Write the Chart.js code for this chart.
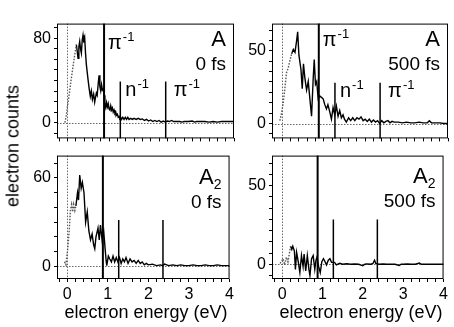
<!DOCTYPE html>
<html>
<head>
<meta charset="utf-8">
<script src="https://cdn.jsdelivr.net/npm/chart.js@4"></script>
<style>
  body { margin: 0; background: #fff; width: 454px; height: 327px; overflow: hidden; position: relative;
         font-family: "Liberation Sans", Arial, sans-serif; color: #000; }
  canvas { position: absolute; }
  .ytitle { position: absolute; left: 13px; top: 146px; transform: translate(-50%, -50%) rotate(-90deg);
            font-size: 18px; white-space: nowrap; }
  .xtitle { position: absolute; top: 302px; font-size: 18px; white-space: nowrap; transform: translateX(-50%); }
</style>
</head>
<body>
<canvas id="a0"></canvas>
<canvas id="a500"></canvas>
<canvas id="a2_0"></canvas>
<canvas id="a2_500"></canvas>
<div class="ytitle">electron counts</div>
<div class="xtitle" style="left:146px">electron energy (eV)</div>
<div class="xtitle" style="left:361px">electron energy (eV)</div>
<script>
// ---- data ----
// A, 0 fs
const xDotA0 = [-0.06, -0.03, 0.01, 0.05, 0.09, 0.13, 0.17, 0.215];
const yDotA0 = [0, 6, 18, 29, 41, 52, 63, 74];
const xA0 = [0.215, 0.235, 0.255, 0.275, 0.295, 0.315, 0.335, 0.355, 0.375, 0.395, 0.415, 0.435, 0.455, 0.475, 0.495,
  0.52, 0.55, 0.575, 0.6, 0.63, 0.655, 0.675, 0.695, 0.715, 0.735, 0.76, 0.78, 0.8, 0.82, 0.84, 0.86, 0.88, 0.9, 0.92,
  0.94, 0.96, 0.98, 1.0, 1.02, 1.04, 1.06, 1.08, 1.1, 1.12, 1.14, 1.16, 1.18, 1.2, 1.22, 1.24, 1.26, 1.28, 1.3, 1.33,
  1.36, 1.39, 1.42, 1.45, 1.48, 1.52, 1.56, 1.6, 1.65, 1.7, 1.75, 1.8, 1.85, 1.9, 1.95, 2.0, 2.05, 2.1, 2.15, 2.2, 2.25,
  2.3, 2.35, 2.4, 2.45, 2.5, 2.55, 2.6, 2.7, 2.75, 2.8, 2.9, 3.0, 3.05, 3.1, 3.2, 3.3, 3.4, 3.5, 3.6, 3.7, 3.8, 3.9, 4.0];
const yA0 = [74, 68, 61, 72, 77, 70, 66, 78, 83, 76, 80, 66, 55, 48, 41,
  33, 25, 30, 22, 27, 19.5, 24, 28, 26, 35, 45, 34, 30, 36, 31, 32, 26, 17, 14,
  19, 15, 18, 13, 12, 16, 12, 14, 10, 12, 9, 10, 7, 8, 5, 6, 4, 5, 3, 5,
  3, 5, 3, 5, 3, 4, 3, 4, 3, 4, 3, 3.5, 2, 3, 1.5, 2.5, 1, 2, 1, 2, 0.5,
  1.5, 0.5, 1.5, 1, 2, 1, 1, 1, 0.5, 1, 1, 1.5, 0.5, 1, 1, 1, 0.5, 1, 0.5, 1, 1, 1, 1];

// A, 500 fs
const xDotA500 = [-0.06, -0.02, 0.02, 0.06, 0.1, 0.14, 0.18, 0.225];
const yDotA500 = [2, 7, 14, 24, 35, 38, 43, 48];
const xA500 = [0.225, 0.265, 0.305, 0.345, 0.37, 0.4, 0.45, 0.48, 0.51, 0.545, 0.585, 0.625, 0.665, 0.705, 0.745, 0.77,
  0.8, 0.83, 0.865, 0.9, 0.945, 0.985, 1.025, 1.065, 1.1, 1.145, 1.185, 1.225, 1.265, 1.305, 1.345, 1.385, 1.425, 1.465,
  1.5, 1.545, 1.6, 1.65, 1.7, 1.75, 1.8, 1.85, 1.9, 1.95, 2.0, 2.05, 2.1, 2.15, 2.2, 2.25, 2.3, 2.35, 2.4, 2.45, 2.5,
  2.55, 2.6, 2.65, 2.7, 2.8, 2.9, 3.0, 3.1, 3.2, 3.3, 3.4, 3.5, 3.55, 3.6, 3.7, 3.8, 3.9, 4.0];
const yA500 = [48, 51, 49, 57, 63, 47, 37, 24, 41, 31, 23, 29, 17, 5, 31, 44,
  27, 29, 17, 19, 18, 17, 13, 10, 13, 8, 3, 11, 6, 12, 5, 9, 4, 6,
  3, 1, 4, 2, 4, 2, 4, 3, 4.5, 2, 3, 1.5, 3, 1, 2.5, 1, 2, 0, 2, 0.5, 1.5,
  2, 0.5, 1.5, 1, 1, 0.5, 1, 0.5, 0.5, 1, 0.5, 0.5, 2, 0.5, 0.5, 0.5, 0, 0];

// A2, 0 fs
const xDotA2_0 = [-0.065, -0.03, 0.015, 0.055, 0.08, 0.11, 0.135, 0.16, 0.19, 0.215];
const yDotA2_0 = [3, 1, 12, 26, 38, 42, 37, 42, 38, 41];
const xA2_0 = [0.215, 0.255, 0.28, 0.31, 0.345, 0.375, 0.415, 0.455, 0.495, 0.535, 0.575, 0.615, 0.65, 0.68, 0.71, 0.76,
  0.79, 0.82, 0.86, 0.9, 0.935, 0.96, 0.975, 1.015, 1.05, 1.09, 1.13, 1.17, 1.21, 1.25, 1.29, 1.33, 1.37, 1.41, 1.45,
  1.5, 1.55, 1.6, 1.65, 1.7, 1.75, 1.8, 1.85, 1.9, 1.95, 2.0, 2.1, 2.2, 2.3, 2.35, 2.4, 2.5, 2.6, 2.7, 2.8, 2.9, 3.0,
  3.1, 3.2, 3.3, 3.4, 3.5, 3.6, 3.7, 3.8, 3.9, 4.0];
const yA2_0 = [41, 50, 45, 62, 53, 57, 50, 30, 37, 24, 18, 22, 15, 12, 20, 26,
  18, 28, 18, 24, 12, 4, 0.5, 7, 5, 3, 7, 3, 6, 3, 6, 2, 5, 3, 6,
  2, 5, 3, 4, 2, 4, 2, 3, 1, 2, 1, 1.5, 0.5, 1, 0.5, 1.5, 0.5, 1, 0.5, 1, 0.5, 0.5,
  1, 0.5, 0.5, 1, 0.5, 0.5, 1, 0.5, 0.5, 0.5];

// A2, 500 fs
const xDotA2_500 = [-0.05, -0.01, 0.025, 0.065, 0.105, 0.145, 0.185, 0.21];
const yDotA2_500 = [0.6, 2, 3.5, -0.4, 4.5, 1.6, 7.5, 11.4];
const xA2_500 = [0.21, 0.24, 0.265, 0.305, 0.33, 0.36, 0.4, 0.44, 0.48, 0.52, 0.545, 0.585, 0.625, 0.665, 0.69, 0.73,
  0.77, 0.81, 0.84, 0.865, 0.905, 0.945, 0.985, 1.025, 1.065, 1.1, 1.145, 1.185, 1.225, 1.3, 1.345, 1.425, 1.5, 1.6,
  1.7, 1.8, 1.9, 2.0, 2.05, 2.1, 2.2, 2.25, 2.29, 2.32, 2.4, 2.5, 2.6, 2.7, 2.8, 2.9, 2.95, 3.0, 3.1, 3.2, 3.3, 3.4,
  3.45, 3.5, 3.6, 3.7, 3.8, 3.9, 4.0];
const yA2_500 = [11.4, 9.4, 11.4, 8.4, -3.3, 7.5, 1.6, -5.3, 5.5, -1.4, 6.5, -4.3, 5.5, -3.3, -7.2, 3.5,
  5.5, -3.3, 2.6, 4.5, -1.4, -5.3, 1.6, 3.5, 1.6, -0.4, 2.6, 3.5, 1.2, 1.2, -0.4, 0.6, 0, 0.3,
  0, 0.2, 0, -1, 0, 0.2, 0, 0.5, 2.6, 0.6, 0, 0.2, 0, 0, 0, -0.8, 0, 0, 0.2, 0, 0, 0.8,
  0, 0, 0, 0, 0, 0, 0];

// ionisation thresholds (eV) and their labels
const thresholds = [0.88, 1.27, 2.36];
const thresholdNames = ['π', 'n', 'π'];

// axis ticks
const xRange = [-0.25, 4];
const xTickLabels = [0, 1, 2, 3, 4];
const yLabelsA0 = [0, 80], yLabelsA500 = [0, 50], yLabelsA2_0 = [0, 60], yLabelsA2_500 = [0, 50];

// ---- layout ----
const FONT = '"Liberation Sans", Arial, sans-serif';
const pad = { l: 42, r: 2, t: 2 };

function pts(xs, ys) { return xs.map((x, i) => ({ x: x, y: ys[i] })); }
function steps(from, to, step) { const a = []; for (let i = from; i <= to; i++) a.push(i * step); return a; }

const panelDecor = {
  id: 'panelDecor',
  beforeDatasetsDraw(chart, args, o) {
    const { ctx, chartArea: a, scales: { x, y } } = chart;
    ctx.save();
    ctx.strokeStyle = '#666';
    ctx.lineWidth = 1;
    ctx.setLineDash([1.5, 1.5]);
    const x0 = Math.round(x.getPixelForValue(0)) + 0.5, y0 = Math.round(y.getPixelForValue(0)) + 0.5;
    ctx.beginPath();
    ctx.moveTo(x0, a.top); ctx.lineTo(x0, a.bottom);
    ctx.moveTo(a.left, y0); ctx.lineTo(a.right, y0);
    ctx.stroke();
    ctx.restore();
  },
  afterDatasetsDraw(chart, args, o) {
    const { ctx, chartArea: a, scales: { x, y } } = chart;
    ctx.save();
    ctx.strokeStyle = '#000';
    // threshold lines
    thresholds.forEach((e, i) => {
      const px = x.getPixelForValue(e);
      const top = i === 0 ? a.top : y.getPixelForValue(o.lineTop);
      ctx.lineWidth = i === 0 ? 2 : 1.5;
      ctx.beginPath(); ctx.moveTo(px, top); ctx.lineTo(px, a.bottom); ctx.stroke();
      if (o.showNames) {
        const base = i === 0 ? a.top + o.firstBase : y.getPixelForValue(o.lineTop) + 14;
        const lx = px + [4, 5, 8][i];
        ctx.fillStyle = '#000';
        ctx.textBaseline = 'alphabetic';
        ctx.textAlign = 'left';
        ctx.font = '20px ' + FONT;
        ctx.fillText(thresholdNames[i], lx, base);
        const w = ctx.measureText(thresholdNames[i]).width;
        ctx.font = '13px ' + FONT;
        ctx.fillText('-1', lx + w + 1, base - 8);
      }
    });
    // frame
    ctx.lineWidth = 1;
    ctx.strokeRect(a.left + 0.5, a.top + 0.5, a.right - a.left - 1, a.bottom - a.top - 1);
    // panel tag
    ctx.fillStyle = '#000';
    ctx.textAlign = 'right';
    ctx.textBaseline = 'alphabetic';
    const rx = a.right - 8;
    if (o.sub) {
      ctx.font = '14px ' + FONT;
      const sw = ctx.measureText(o.sub).width;
      ctx.fillText(o.sub, rx, a.top + o.tagBase + 5);
      ctx.font = '22px ' + FONT;
      ctx.fillText(o.tag, rx - sw, a.top + o.tagBase);
    } else {
      ctx.font = '22px ' + FONT;
      ctx.fillText(o.tag, rx, a.top + o.tagBase);
    }
    ctx.font = '19px ' + FONT;
    ctx.fillText(o.time, rx, a.top + o.tagBase + 24);
    ctx.restore();
  }
};

function makePanel(id, box, dot, solid, yMin, yMax, yTicks, yLabels, bottomRow, decor) {
  const cv = document.getElementById(id);
  const padB = bottomRow ? 30 : 6;
  cv.width = box.w + pad.l + pad.r;
  cv.height = box.h + pad.t + padB;
  cv.style.left = (box.x - pad.l) + 'px';
  cv.style.top = (box.y - pad.t) + 'px';
  const xTicks = steps(-1, 20, 0.2);
  new Chart(cv, {
    type: 'line',
    data: {
      datasets: [
        { data: dot, borderColor: '#555', borderWidth: 1.4, borderDash: [1.5, 1.5], pointRadius: 0, tension: 0 },
        { data: solid, borderColor: '#000', borderWidth: 1.4, pointRadius: 0, tension: 0 }
      ]
    },
    options: {
      responsive: false,
      animation: false,
      devicePixelRatio: 1,
      layout: { padding: { top: pad.t, right: pad.r, left: 0, bottom: 0 } },
      plugins: { legend: { display: false }, tooltip: { enabled: false }, panelDecor: decor },
      scales: {
        x: {
          type: 'linear', min: xRange[0], max: xRange[1],
          afterFit: s => { s.height = padB; },
          afterBuildTicks: s => { s.ticks = xTicks.map(v => ({ value: v })); },
          ticks: {
            autoSkip: false, maxRotation: 0, padding: 3, color: '#000', font: { family: FONT, size: 16 },
            callback: v => (bottomRow && xTickLabels.some(t => Math.abs(t - v) < 1e-6)) ? Math.round(v) : ''
          },
          grid: { drawOnChartArea: false, tickLength: 3, tickColor: '#000', tickWidth: 1 },
          border: { display: false }
        },
        y: {
          type: 'linear', min: yMin, max: yMax,
          afterFit: s => { s.width = pad.l; },
          afterBuildTicks: s => { s.ticks = yTicks.map(v => ({ value: v })); },
          ticks: {
            autoSkip: false, padding: 3, color: '#000', font: { family: FONT, size: 16 },
            callback: v => { const l = yLabels.find(t => Math.abs(t - v) < 1e-6); return l === undefined ? '' : l; }
          },
          grid: { drawOnChartArea: false, tickLength: 3, tickColor: '#000', tickWidth: 1 },
          border: { display: false }
        }
      }
    },
    plugins: [panelDecor]
  });
}

makePanel('a0', { x: 57, y: 13, w: 178, h: 132 }, pts(xDotA0, yDotA0), pts(xA0, yA0), -15, 94,
  steps(-1, 9, 10), yLabelsA0, false,
  { lineTop: 39, showNames: true, firstBase: 25, tag: 'A', time: '0 fs', tagBase: 22 });
makePanel('a500', { x: 272, y: 13, w: 177, h: 132 }, pts(xDotA500, yDotA500), pts(xA500, yA500), -10.2, 68.7,
  steps(-1, 9, 50 / 7), yLabelsA500, false,
  { lineTop: 28, showNames: true, firstBase: 22, tag: 'A', time: '500 fs', tagBase: 22 });
makePanel('a2_0', { x: 57, y: 145, w: 178, h: 134 }, pts(xDotA2_0, yDotA2_0), pts(xA2_0, yA2_0), -8.6, 75.2,
  steps(0, 7, 10), yLabelsA2_0, true,
  { lineTop: 31.5, showNames: false, tag: 'A', sub: '2', time: '0 fs', tagBase: 28 });
makePanel('a2_500', { x: 272, y: 145, w: 177, h: 134 }, pts(xDotA2_500, yDotA2_500), pts(xA2_500, yA2_500), -9.4, 69.2,
  steps(-1, 9, 50 / 7), yLabelsA2_500, true,
  { lineTop: 28.5, showNames: false, tag: 'A', sub: '2', time: '500 fs', tagBase: 27 });
</script>
</body>
</html>
